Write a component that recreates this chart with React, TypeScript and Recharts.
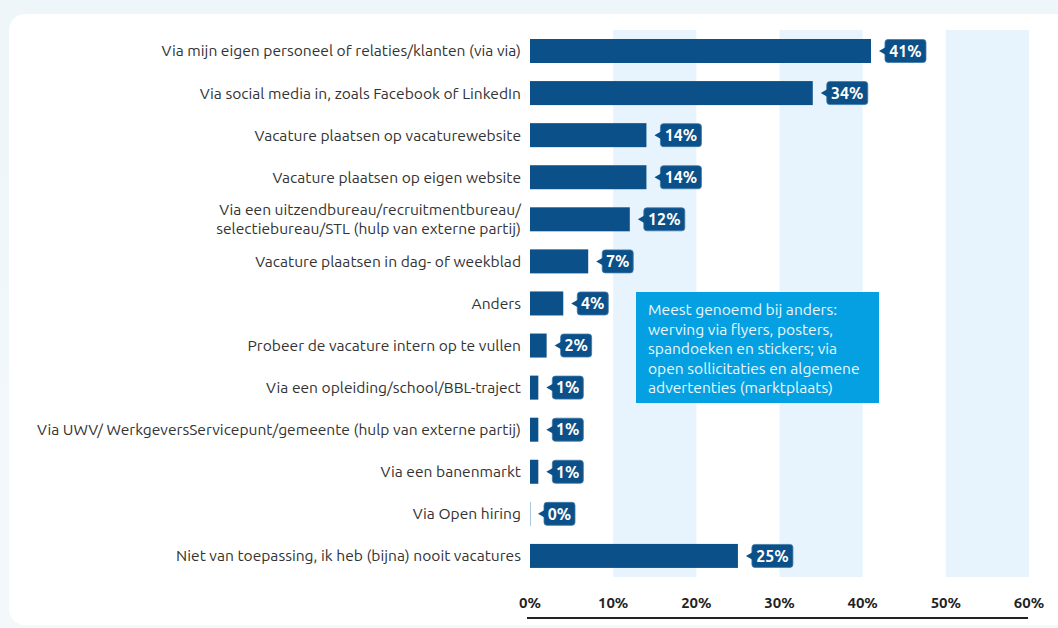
import React from 'react';
import { BarChart, Bar, XAxis, YAxis, ReferenceArea, LabelList } from 'recharts';

// Survey answers: how vacancies get filled
const categories = [
  'Via mijn eigen personeel of relaties/klanten (via via)',
  'Via social media in, zoals Facebook of LinkedIn',
  'Vacature plaatsen op vacaturewebsite',
  'Vacature plaatsen op eigen website',
  'Via een uitzendbureau/recruitmentbureau/\nselectiebureau/STL (hulp van externe partij)',
  'Vacature plaatsen in dag- of weekblad',
  'Anders',
  'Probeer de vacature intern op te vullen',
  'Via een opleiding/school/BBL-traject',
  'Via UWV/ WerkgeversServicepunt/gemeente (hulp van externe partij)',
  'Via een banenmarkt',
  'Via Open hiring',
  'Niet van toepassing, ik heb (bijna) nooit vacatures'
];
const percentages = [41, 34, 14, 14, 12, 7, 4, 2, 1, 1, 1, 0, 25];
const xTicks = [0, 10, 20, 30, 40, 50, 60];
const shadedBands: [number, number][] = [[10, 20], [30, 40], [50, 60]];
const noteLines = [
  'Meest genoemd bij anders:',
  'werving via flyers, posters,',
  'spandoeken en stickers; via',
  'open sollicitaties en algemene',
  'advertenties (marktplaats)'
];

const BAR_COLOR = '#0b5088';
const FONT = 'Ubuntu, "Open Sans", "Noto Sans", sans-serif';

const data = categories.map((name, i) => ({ name, value: percentages[i] }));

const CategoryTick = (props: any) => {
  const { x, y, payload } = props;
  const lines = String(payload.value).split('\n');
  const lh = 19;
  const startY = y - ((lines.length - 1) * lh) / 2;
  return (
    <text x={x} y={startY} textAnchor="end" fill="#333" fontSize={15.6} fontFamily={FONT}>
      {lines.map((l, i) => (
        <tspan key={i} x={x} y={startY + i * lh} dy="0.35em">{l}</tspan>
      ))}
    </text>
  );
};

const PercentTick = (props: any) => {
  const { x, y, payload } = props;
  return (
    <text x={x} y={y + 23} textAnchor="middle" fill="#222" fontSize={15} fontWeight={700} fontFamily={FONT}>
      {`${payload.value}%`}
    </text>
  );
};

const BarShape = (props: any) => {
  const { x, y, width, height } = props;
  if (!width || width < 1) {
    return <rect x={x} y={y} width={1} height={height} fill="#a9c6dd" />;
  }
  return <rect x={x} y={y} width={width} height={height} fill={BAR_COLOR} />;
};

const ValueBadge = (props: any) => {
  const { x, y, width, height, value } = props;
  const label = `${value}%`;
  const tip = x + (width || 0) + 8;
  const boxX = tip + 6;
  const boxW = 11 + 10 * label.length;
  const boxH = 23;
  const cy = y + height / 2;
  return (
    <g>
      <rect x={boxX} y={cy - boxH / 2} width={boxW} height={boxH} rx={3} fill={BAR_COLOR} stroke="#3f7aa8" strokeWidth={0.8} />
      <path d={`M${tip},${cy} L${boxX + 1},${cy - 4} L${boxX + 1},${cy + 4} Z`} fill={BAR_COLOR} />
      <text x={boxX + boxW / 2} y={cy} dy="0.36em" textAnchor="middle" fill="#fff" fontSize={16} fontWeight={700} fontFamily={FONT}>
        {label}
      </text>
    </g>
  );
};

export default function App() {
  return (
    <div style={{ position: 'absolute', left: 0, top: 0, width: 1058, height: 628, overflow: 'hidden', background: 'linear-gradient(180deg, #eef6fa 0%, #f3f8fb 100%)' }}>
      <div style={{ position: 'absolute', left: 9, top: 14, width: 1100, height: 611, background: '#fff', borderRadius: 16 }} />
      <div style={{ position: 'absolute', left: 0, top: 0 }}>
        <BarChart
          width={1058}
          height={628}
          data={data}
          layout="vertical"
          margin={{ top: 30, right: 29, bottom: 11, left: 0 }}
          barSize={24}
        >
          {shadedBands.map(([a, b]) => (
            <ReferenceArea key={a} x1={a} x2={b} fill="#e7f4fd" fillOpacity={1} stroke="none" ifOverflow="extendDomain" />
          ))}
          <XAxis
            type="number"
            domain={[0, 60]}
            ticks={xTicks}
            height={40}
            axisLine={false}
            tickLine={false}
            tick={<PercentTick />}
            interval={0}
          />
          <YAxis
            type="category"
            dataKey="name"
            width={530}
            axisLine={false}
            tickLine={false}
            tick={<CategoryTick />}
            interval={0}
            tickMargin={3}
          />
          <Bar dataKey="value" isAnimationActive={false} shape={<BarShape />}>
            <LabelList dataKey="value" content={<ValueBadge />} />
          </Bar>
        </BarChart>
      </div>
      <div style={{ position: 'absolute', left: 527, top: 617, width: 501, height: 2, background: '#222' }} />
      <div style={{ position: 'absolute', left: 636, top: 292, width: 243, height: 111, background: '#05a0e1', boxSizing: 'border-box', padding: '8px 6px 0 12px', color: '#eaf7fd', fontFamily: FONT, fontSize: 15.6, lineHeight: '19.6px', whiteSpace: 'nowrap' }}>
        {noteLines.map((l, i) => (
          <div key={i}>{l}</div>
        ))}
      </div>
    </div>
  );
}
